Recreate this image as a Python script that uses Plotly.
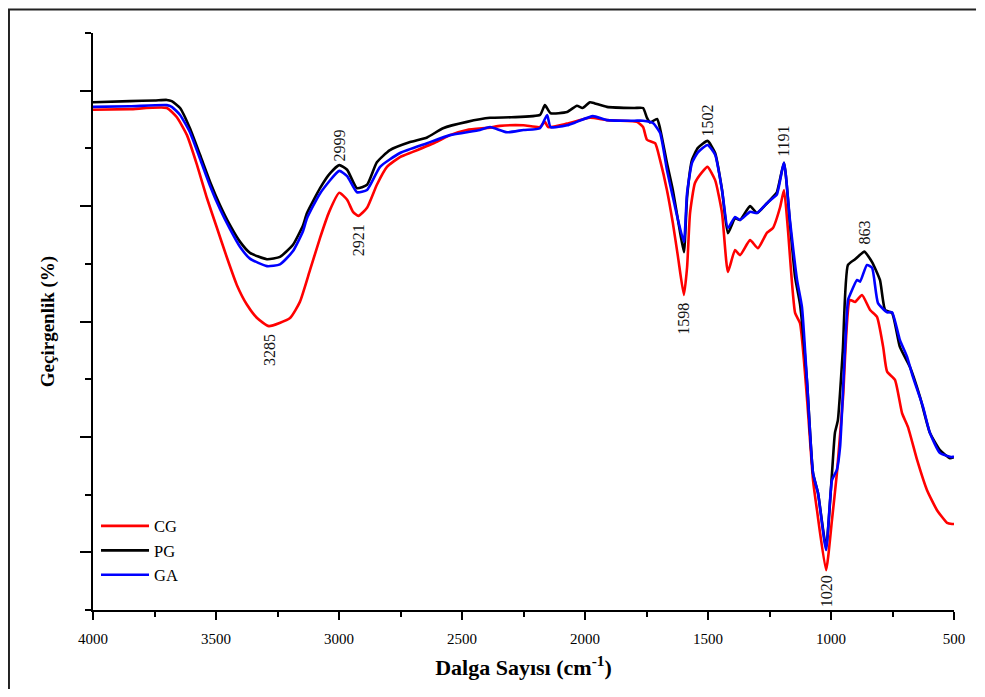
import plotly.graph_objects as go

# ---------------- data (wavenumber cm-1, transmittance a.u.) ----------------
cg_wn = [4000, 3850, 3700, 3659, 3618, 3577, 3537, 3496, 3455, 3415, 3374, 3333, 3285,
         3199, 3159, 3118, 3077, 3040, 2999, 2967, 2943, 2921, 2886, 2846, 2805, 2752,
         2700, 2600, 2549, 2480, 2386, 2346, 2250, 2183, 2163, 2150, 2073, 1980, 1911,
         1789, 1764, 1748, 1715, 1695, 1667, 1643, 1622, 1598, 1585, 1573, 1553, 1524,
         1502, 1471, 1443, 1419, 1390, 1370, 1329, 1297, 1260, 1236, 1207, 1191, 1175,
         1146, 1126, 1098, 1073, 1057, 1020, 996, 976, 951, 923, 902, 874, 841, 813,
         788, 772, 740, 711, 687, 650, 610, 569, 528, 508, 500]
cg_t = [86.7, 86.8, 87.0, 85.4, 82.3, 77.1, 71.4, 66.2, 61.0, 56.3, 52.9, 50.6, 49.2,
        50.6, 53.4, 58.9, 64.5, 69.0, 72.3, 71.1, 69.0, 68.3, 69.7, 73.7, 76.8, 78.5,
        79.4, 81.2, 82.3, 83.2, 83.6, 83.9, 84.0, 83.7, 84.6, 83.7, 84.3, 85.3, 84.9,
        84.6, 83.7, 81.5, 80.9, 78.0, 72.8, 67.1, 61.2, 54.6, 59.4, 68.8, 74.0, 75.9,
        76.8, 74.5, 68.8, 58.6, 62.4, 61.5, 64.1, 62.7, 65.4, 66.2, 69.8, 72.8, 65.9,
        51.5, 49.7, 36.9, 22.5, 17.3, 6.9, 15.6, 23.7, 36.9, 53.7, 53.4, 54.6, 52.0, 50.8,
        45.6, 41.3, 39.9, 34.1, 31.7, 26.0, 20.8, 17.3, 15.1, 14.9, 14.9]

pg_wn = [4000, 3850, 3750, 3700, 3680, 3646, 3606, 3565, 3524, 3484, 3443, 3402, 3362,
         3293, 3240, 3187, 3146, 3130, 3077, 3040, 2999, 2967, 2927, 2886, 2846, 2793,
         2711, 2642, 2577, 2480, 2386, 2300, 2183, 2163, 2140, 2073, 2033, 2010, 1980,
         1960, 1911, 1800, 1764, 1748, 1736, 1707, 1695, 1667, 1643, 1622, 1598, 1585,
         1565, 1541, 1502, 1471, 1443, 1419, 1390, 1370, 1329, 1301, 1260, 1236, 1220,
         1191, 1167, 1146, 1126, 1098, 1073, 1053, 1020, 996, 984, 972, 952, 931, 902,
         870, 863, 833, 801, 780, 752, 720, 679, 638, 598, 557, 516, 500]
pg_t = [88.0, 88.2, 88.3, 88.4, 88.2, 87.0, 83.5, 78.9, 74.2, 70.2, 66.7, 63.8, 61.9,
        60.8, 61.2, 63.3, 66.7, 68.8, 73.1, 75.5, 77.1, 76.3, 73.1, 73.7, 77.6, 79.7,
        81.1, 81.9, 83.5, 84.6, 85.3, 85.4, 85.8, 87.5, 86.1, 86.3, 87.4, 87.0, 88.0,
        87.8, 87.2, 87.0, 87.0, 85.3, 84.5, 85.1, 83.5, 77.5, 72.8, 67.6, 62.0, 71.6,
        78.0, 80.1, 81.3, 79.2, 72.8, 65.3, 67.9, 67.6, 70.0, 68.8, 70.5, 71.6, 72.4,
        77.5, 67.1, 57.7, 53.0, 39.9, 23.7, 20.3, 10.9, 23.7, 30.7, 32.9, 45.0, 59.8, 60.8,
        62.0, 62.1, 60.3, 57.2, 52.0, 51.5, 45.6, 42.1, 36.9, 30.7, 27.7, 26.3, 26.5]

ga_wn = [4000, 3850, 3700, 3680, 3646, 3606, 3565, 3524, 3484, 3443, 3402, 3362, 3293,
         3240, 3187, 3146, 3130, 3077, 2999, 2967, 2927, 2886, 2833, 2752, 2642, 2549,
         2427, 2386, 2317, 2250, 2183, 2154, 2140, 2073, 2033, 1968, 1911, 1800, 1764,
         1724, 1695, 1667, 1643, 1622, 1598, 1585, 1565, 1541, 1502, 1471, 1443, 1419,
         1390, 1370, 1329, 1301, 1260, 1236, 1220, 1191, 1167, 1138, 1118, 1098, 1073,
         1053, 1020, 996, 976, 963, 931, 923, 894, 882, 854, 833, 809, 772, 752, 720,
         691, 667, 626, 598, 557, 508, 500]
ga_t = [87.2, 87.3, 87.5, 87.2, 85.8, 82.8, 78.2, 73.5, 69.5, 66.0, 62.9, 60.9, 59.6,
        59.9, 62.2, 65.7, 67.9, 72.2, 76.1, 75.2, 72.4, 72.8, 76.8, 79.2, 80.9, 82.3,
        83.2, 83.7, 82.8, 83.2, 83.5, 85.8, 83.7, 84.0, 84.6, 85.6, 84.9, 84.8, 84.8,
        84.4, 82.7, 76.3, 71.6, 67.6, 63.8, 72.3, 77.5, 79.3, 80.6, 78.9, 72.8, 66.2,
        68.1, 67.6, 69.0, 68.8, 70.5, 71.4, 72.0, 77.5, 67.6, 57.2, 52.5, 40.0, 23.7,
        20.3, 10.4, 22.5, 24.3, 28.3, 53.7, 54.6, 57.2, 56.9, 59.8, 59.3, 53.2, 51.6, 51.6,
        46.8, 43.9, 40.4, 35.2, 30.7, 27.2, 26.5, 26.6]

series_names = ["CG", "PG", "GA"]
series_colors = ["#FF0000", "#000000", "#0000FF"]

# peak labels: (wavenumber, series index used for height, shift in px)
peak_wn = [3285, 2999, 2921, 1598, 1502, 1191, 1020, 863]
peak_ref = [0, 1, 0, 0, 1, 1, 0, 1]
peak_shift = [-24, 20, -24, -24, 20, 21, -21, 19]

x_major = [4000, 3500, 3000, 2500, 2000, 1500, 1000, 500]
x_minor = [3750, 3250, 2750, 2250, 1750, 1250, 750]
y_major = [10, 30, 50, 70, 90]
y_minor = [0, 20, 40, 60, 80, 100]

SERIF = "Liberation Serif, Times New Roman, serif"

fig = go.Figure()
all_wn = [cg_wn, pg_wn, ga_wn]
all_t = [cg_t, pg_t, ga_t]
for name, col, wn, t in zip(series_names, series_colors, all_wn, all_t):
    fig.add_trace(go.Scatter(x=wn, y=t, mode="lines", name=name,
                             line=dict(color=col, width=2.6, shape="spline", smoothing=0.5)))

for wn, ref, sh in zip(peak_wn, peak_ref, peak_shift):
    wl, tl = all_wn[ref], all_t[ref]
    yv = tl[wl.index(wn)]
    fig.add_annotation(x=wn, y=yv, text=str(wn), showarrow=False, textangle=-90,
                       xanchor="center", yanchor="middle", yshift=sh,
                       font=dict(family=SERIF, size=16, color="#111"))

# outer frame (top and left edges visible)
fig.add_shape(type="path", xref="paper", yref="paper",
              path="M -0.0976,-0.17 L -0.0976,1.0407 L 1.0256,1.0407",
              line=dict(color="#222", width=2))

fig.update_layout(
    width=969, height=681,
    margin=dict(l=85, r=23, t=25, b=79),
    paper_bgcolor="white", plot_bgcolor="white",
    font=dict(family=SERIF, color="black"),
    showlegend=True,
    legend=dict(x=0.0035, y=0.03, xanchor="left", yanchor="bottom",
                bgcolor="rgba(0,0,0,0)", font=dict(family=SERIF, size=16.5),
                tracegroupgap=0, itemwidth=48),
    xaxis=dict(range=[4000, 500], tickvals=x_major, ticktext=[str(v) for v in x_major],
               ticks="outside", ticklen=8, tickwidth=2, tickcolor="black",
               minor=dict(tickvals=x_minor, ticks="outside", ticklen=5, tickwidth=2, tickcolor="black"),
               showline=True, linewidth=2, linecolor="black", showgrid=False, zeroline=False,
               tickfont=dict(family=SERIF, size=15), ticklabelstandoff=6,
               title=dict(text="<b>Dalga Sayısı (cm<sup>-1</sup>)</b>",
                          font=dict(family=SERIF, size=22), standoff=14)),
    yaxis=dict(range=[0, 100], tickvals=y_major, showticklabels=False,
               ticks="outside", ticklen=11, tickwidth=2, tickcolor="black",
               minor=dict(tickvals=y_minor, ticks="outside", ticklen=6, tickwidth=2, tickcolor="black"),
               showline=True, linewidth=2, linecolor="black", showgrid=False, zeroline=False,
               title=dict(text="<b>Geçirgenlik (%)</b>",
                          font=dict(family=SERIF, size=19), standoff=20)),
)

fig.write_html("out.html")
